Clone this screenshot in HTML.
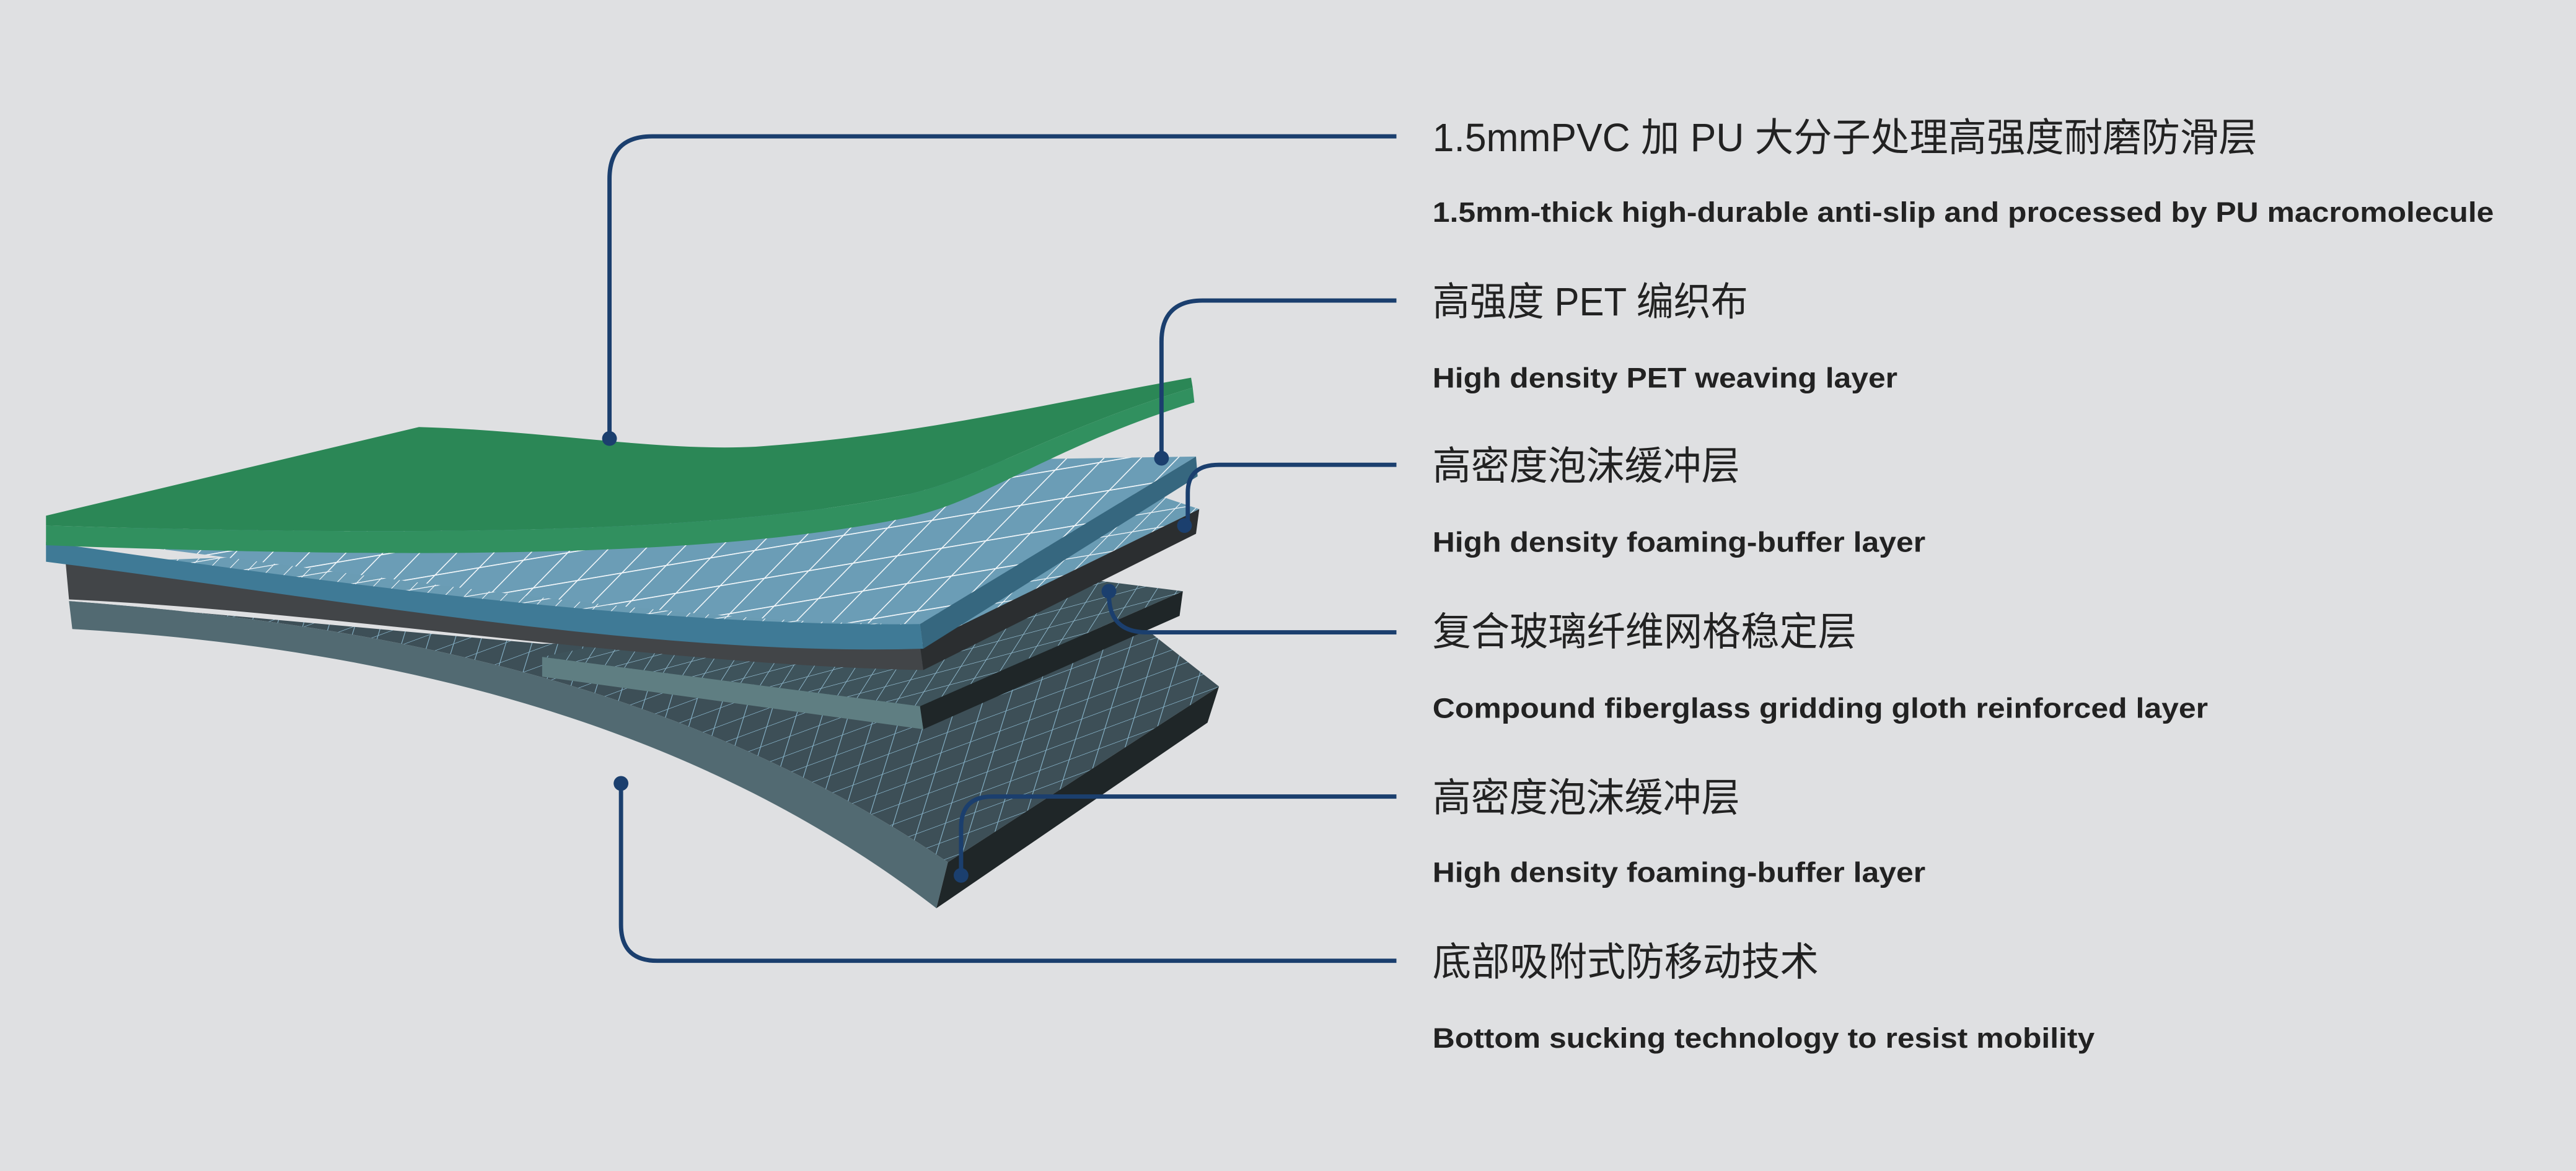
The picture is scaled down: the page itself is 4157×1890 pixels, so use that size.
<!DOCTYPE html>
<html><head><meta charset="utf-8"><style>
html,body{margin:0;padding:0;background:#dfe0e2;}
svg{display:block;}
</style></head><body>
<svg width="4157" height="1890" viewBox="0 0 1568 713" preserveAspectRatio="none" xmlns="http://www.w3.org/2000/svg">
<defs>
<pattern id="gw" width="22" height="22" patternUnits="userSpaceOnUse" patternTransform="skewX(-50) rotate(-12)">
<rect width="22" height="22" fill="#6b9db6"/><path d="M0 0H22M0 0V22" stroke="#f2f7fa" stroke-width="1.6"/></pattern>
<pattern id="gw2" width="12" height="12" patternUnits="userSpaceOnUse" patternTransform="skewX(-50) rotate(-12)">
<rect width="12" height="12" fill="#6a9cb4"/><path d="M0 0H12M0 0V12" stroke="#eef4f8" stroke-width="1.2"/></pattern>
<pattern id="gd" width="12" height="12" patternUnits="userSpaceOnUse" patternTransform="skewX(-45) rotate(-20)">
<rect width="12" height="12" fill="#3e535b"/><path d="M0 0H12M0 0V12" stroke="#8fb8cc" stroke-width="0.8"/></pattern>
<pattern id="gd2" width="14" height="14" patternUnits="userSpaceOnUse" patternTransform="skewX(-40) rotate(-28)">
<rect width="14" height="14" fill="#3d4f57"/><path d="M0 0H14M0 0V14" stroke="#86b2c8" stroke-width="0.8"/></pattern>
</defs>
<rect width="1568" height="713" fill="#dfe0e2"/>

<!-- bottom slab -->
<path d="M42 366 C200 378 400 405 577 525 L742 418 L700 385 L330 392 Z" fill="url(#gd2)"/>
<path d="M42 366 C200 378 400 405 577 525 L570 553 C430 445 250 395 44 383 Z" fill="#526a72"/>
<path d="M577 525 L742 418 L735 440 L570 553 Z" fill="#1f2628"/>

<!-- layer 3 grid reinforced -->
<path d="M330 400 L560 430 L720 360 L600 345 Z" fill="url(#gd)"/>
<path d="M330 400 L560 430 L562 444 L330 412 Z" fill="#5f7e82"/>
<path d="M560 430 L720 360 L718 375 L562 444 Z" fill="#1f2628"/>

<!-- layer 4 dark foam with grid top -->
<path d="M40 343 C200 350 400 385 560 393 L730 310 L700 300 L400 330 Z" fill="url(#gw2)"/>
<path d="M40 343 C200 352 400 388 560 393 L562 408 C400 405 200 372 42 365 Z" fill="#424548"/>
<path d="M560 393 L730 310 L728 325 L562 408 Z" fill="#2b2e30"/>

<!-- layer 2 blue PET -->
<path d="M28 326 C200 345 400 380 560 380 L728 278 L600 280 L300 300 Z" fill="url(#gw)"/>
<path d="M28 330 C200 355 400 382 560 380 L562 395 C400 400 200 364 28 342 Z" fill="#3f7a96"/>
<path d="M560 380 L728 278 L729 290 L562 395 Z" fill="#36677f"/>

<!-- layer 1 green -->
<path d="M28 314 L255 260 C330 262 400 275 460 272 C560 265 640 245 725 230 L726 236 C640 262 600 290 553 301 C450 322 300 328 28 320 Z" fill="#2b8756"/>
<path d="M28 320 C300 328 450 322 553 301 C600 290 640 262 726 236 L727 245 C640 272 600 305 553 315 C450 336 300 342 28 332 Z" fill="#31905f"/>

<!-- connectors -->
<g fill="none" stroke="#1b3f6e" stroke-width="2.6">
<path d="M850 83 H397 Q371 83 371 109 V267"/>
<path d="M850 183 H732 Q707 183 707 208 V279"/>
<path d="M850 283 H742 Q723 283 723 300 V320"/>
<path d="M850 385 H698 Q675 385 675 362"/>
<path d="M850 485 H604 Q585 485 585 504 V533"/>
<path d="M850 585 H400 Q378 585 378 563 V477"/>
</g>
<g fill="#1b3f6e">
<circle cx="371" cy="267" r="4.5"/><circle cx="707" cy="279" r="4.5"/><circle cx="721" cy="320" r="4.5"/>
<circle cx="675" cy="360" r="4.5"/><circle cx="585" cy="533" r="4.5"/><circle cx="378" cy="477" r="4.5"/>
</g>

<!-- text -->
<g font-family="'Liberation Sans','Noto Sans CJK SC',sans-serif" fill="#222">
<g font-size="24">
<text x="872" y="92" textLength="502" lengthAdjust="spacingAndGlyphs">1.5mmPVC 加 PU 大分子处理高强度耐磨防滑层</text>
<text x="872" y="192" textLength="192" lengthAdjust="spacingAndGlyphs">高强度 PET 编织布</text>
<text x="872" y="292" textLength="187" lengthAdjust="spacingAndGlyphs">高密度泡沫缓冲层</text>
<text x="872" y="393" textLength="258" lengthAdjust="spacingAndGlyphs">复合玻璃纤维网格稳定层</text>
<text x="872" y="494" textLength="187" lengthAdjust="spacingAndGlyphs">高密度泡沫缓冲层</text>
<text x="872" y="594" textLength="235" lengthAdjust="spacingAndGlyphs">底部吸附式防移动技术</text>
</g>
<g font-size="17" font-weight="bold">
<text x="872" y="135" textLength="646" lengthAdjust="spacingAndGlyphs">1.5mm-thick high-durable anti-slip and processed by PU macromolecule</text>
<text x="872" y="236" textLength="283" lengthAdjust="spacingAndGlyphs">High density PET weaving layer</text>
<text x="872" y="336" textLength="300" lengthAdjust="spacingAndGlyphs">High density foaming-buffer layer</text>
<text x="872" y="437" textLength="472" lengthAdjust="spacingAndGlyphs">Compound fiberglass gridding gloth reinforced layer</text>
<text x="872" y="537" textLength="300" lengthAdjust="spacingAndGlyphs">High density foaming-buffer layer</text>
<text x="872" y="638" textLength="403" lengthAdjust="spacingAndGlyphs">Bottom sucking technology to resist mobility</text>
</g>
</g>
</svg>
</body></html>
